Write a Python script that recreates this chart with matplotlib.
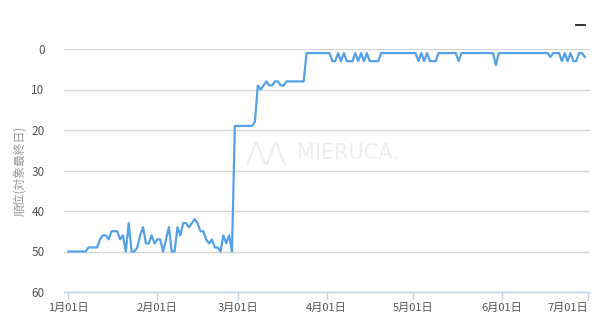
import matplotlib
matplotlib.use("Agg")
import matplotlib.pyplot as plt
from matplotlib.lines import Line2D
import pandas as pd
import numpy as np

plt.rcParams['font.family'] = ['Noto Sans CJK JP', 'DejaVu Sans']

# Daily rank values (lower is better), 2019-01-01 .. 2019-06-30
jan = [50, 50, 50, 50, 50, 50, 50, 49, 49, 49, 49, 47, 46, 46, 47, 45, 45, 45, 47, 46,
       50, 43, 50, 50, 49, 46, 44, 48, 48, 46, 48]
feb = [47, 47, 50, 47, 44, 50, 50, 44, 46, 43, 43, 44, 43, 42, 43, 45, 45, 47, 48, 47,
       49, 49, 50, 46, 48, 46, 50, 19]
mar = [19, 19, 19, 19, 19, 19, 18, 9, 10, 9, 8, 9, 9, 8, 8, 9, 9, 8, 8, 8,
       8, 8, 8, 8, 1, 1, 1, 1, 1, 1, 1]
apr = [1, 1, 3, 3, 1, 3, 1, 3, 3, 3, 1, 3, 1, 3, 1, 3, 3, 3, 3, 1,
       1, 1, 1, 1, 1, 1, 1, 1, 1, 1]
may = [1, 1, 3, 1, 3, 1, 3, 3, 3, 1, 1, 1, 1, 1, 1, 1, 3, 1, 1, 1,
       1, 1, 1, 1, 1, 1, 1, 1, 1, 4, 1]
jun = [1, 1, 1, 1, 1, 1, 1, 1, 1, 1, 1, 1, 1, 1, 1, 1, 1, 2, 1, 1,
       1, 3, 1, 3, 1, 3, 3, 1, 1, 2]

ranks = jan + feb + mar + apr + may + jun
dates = pd.date_range('2019-01-01', periods=len(ranks), freq='D')

tick_dates = pd.to_datetime(['2019-01-01', '2019-02-01', '2019-03-01', '2019-04-01',
                             '2019-05-01', '2019-06-01', '2019-07-01'])
tick_labels = ['1月01日', '2月01日', '3月01日', '4月01日', '5月01日', '6月01日', '7月01日']
y_ticks = [0, 10, 20, 30, 40, 50, 60]

fig = plt.figure(figsize=(6.0, 3.23), dpi=100)
ax = fig.add_axes([64/600, 1-292/323, (590-64)/600, (292-49)/323])

ax.plot(dates, ranks, color='#55a1e8', lw=1.6, solid_joinstyle='round', zorder=3)

ax.set_ylim(60, 0)
ax.set_yticks(y_ticks)
ax.set_xlim(pd.Timestamp('2019-01-01') - pd.Timedelta(days=1.55),
            pd.Timestamp('2019-01-01') + pd.Timedelta(days=181.8))
ax.set_xticks(tick_dates)
ax.set_xticklabels(tick_labels)

ax.grid(axis='y', color='#d6d6d6', lw=1.0)
ax.set_axisbelow(True)
for s in ['top', 'right', 'left']:
    ax.spines[s].set_visible(False)
ax.spines['bottom'].set_color('#c0d4ea')
ax.spines['bottom'].set_linewidth(1.0)
ax.spines['bottom'].set_zorder(2)

ax.tick_params(axis='y', length=0, pad=14, labelsize=8.5, labelcolor='#555555')
ax.tick_params(axis='x', length=6, width=1.0, color='#c0d4ea', pad=1.5,
               labelsize=8, labelcolor='#555555')
ax.get_xticklabels()[-1].set_ha('right')

ax.set_ylabel('順位(対象最終日)', color='#999999', fontsize=8.5, labelpad=4)

# watermark
ax.text(0.443, 0.57, 'MIERUCA.', transform=ax.transAxes, fontsize=15,
        color='#eeeeee', ha='left', va='center', family='DejaVu Sans', zorder=1)
ax.text(0.345, 0.57, '⋀⋀', transform=ax.transAxes, fontsize=18,
        color='#eeeeee', ha='left', va='center', family='DejaVu Sans', zorder=1)

# legend-like mark at top right
fig.add_artist(Line2D([576/600, 585/600], [1-25/323, 1-25/323], color='#222222', lw=1.3,
                      transform=fig.transFigure))

fig.savefig('out.png', dpi=100)
